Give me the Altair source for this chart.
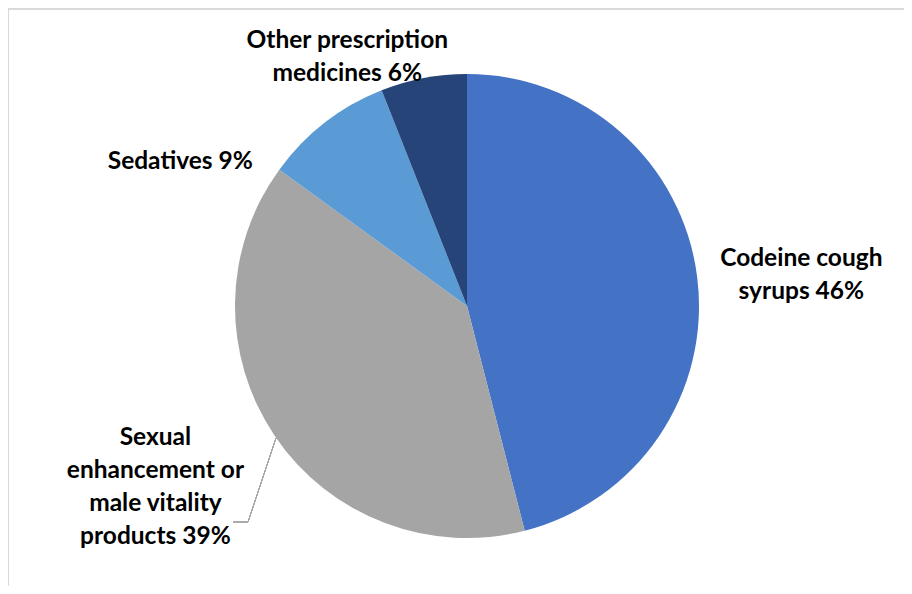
import math
import altair as alt
import pandas as pd

# ---- data ----
categories = [
    "Codeine cough syrups",
    "Sexual enhancement or male vitality products",
    "Sedatives",
    "Other prescription medicines",
]
shares = [46, 39, 9, 6]
labels = [
    "Codeine cough\nsyrups 46%",
    "Sexual\nenhancement or\nmale vitality\nproducts 39%",
    "Sedatives 9%",
    "Other prescription\nmedicines 6%",
]
colors = ["#4472C4", "#A5A5A5", "#5B9BD5", "#264478"]

df = pd.DataFrame({
    "category": categories,
    "share": shares,
    "label": labels,
    "order": list(range(len(categories))),
})

# ---- layout ----
W, H = 896, 578
CX, CY = 459, 298
R = 232
FONT = "Lato"
FS = 24.5
LH = 33

# label placement: (radius, dx, dy) per category; anchor is the first line
label_layout = {
    categories[0]: (336, 1, -5),
    categories[1]: (361, -13, -71),
    categories[2]: (321, -90, 110),
    categories[3]: (276, -68, 6),
}

color_scale = alt.Scale(domain=categories, range=colors)

base = alt.Chart(df)

pie = base.mark_arc(radius=R, stroke=None).encode(
    theta=alt.Theta("share:Q", stack=True, scale=alt.Scale(domain=[0, 100])),
    color=alt.Color("category:N", scale=color_scale, legend=None),
    order=alt.Order("order:Q", sort="ascending"),
    x=alt.value(CX),
    y=alt.value(CY),
)

mid = base.transform_window(
    cum="sum(share)", sort=[alt.SortField("order", order="ascending")], frame=[None, 0]
).transform_calculate(mid="datum.cum - datum.share / 2")

text_layers = []
for cat in categories:
    r, dx, dy = label_layout[cat]
    t = mid.transform_filter(alt.datum.category == cat).mark_text(
        radius=r, dx=dx, dy=dy, font=FONT, fontSize=FS, fontWeight="bold",
        color="#000000", align="center", baseline="middle",
        lineBreak="\n", lineHeight=LH,
    ).encode(
        theta=alt.Theta("mid:Q", stack=None, scale=alt.Scale(domain=[0, 100])),
        text="label:N",
        x=alt.value(CX),
        y=alt.value(CY),
    )
    text_layers.append(t)

# leader line for the "Sexual enhancement" label
leader1 = base.mark_rule(color="#A5A5A5", strokeWidth=1).encode(
    x=alt.value(225), x2=alt.value(240), y=alt.value(514), y2=alt.value(514)
)
leader2 = base.mark_rule(color="#A5A5A5", strokeWidth=1).encode(
    x=alt.value(240), x2=alt.value(268), y=alt.value(514), y2=alt.value(430)
)

# frame lines (left and top border of the chart area)
frame_left = base.mark_rule(color="#D9D9D9", strokeWidth=2).encode(
    x=alt.value(0), x2=alt.value(0), y=alt.value(0), y2=alt.value(H)
)
frame_top = base.mark_rule(color="#D9D9D9", strokeWidth=2).encode(
    x=alt.value(0), x2=alt.value(W), y=alt.value(0.5), y2=alt.value(0.5)
)

chart = alt.layer(
    frame_left, frame_top, pie, leader1, leader2, *text_layers
).properties(
    width=W, height=H, padding=0, autosize=alt.AutoSizeParams(type="none")
).configure_view(stroke=None).resolve_scale(theta="shared")

chart.save("out.html", embed_options={"renderer": "svg", "actions": False})
